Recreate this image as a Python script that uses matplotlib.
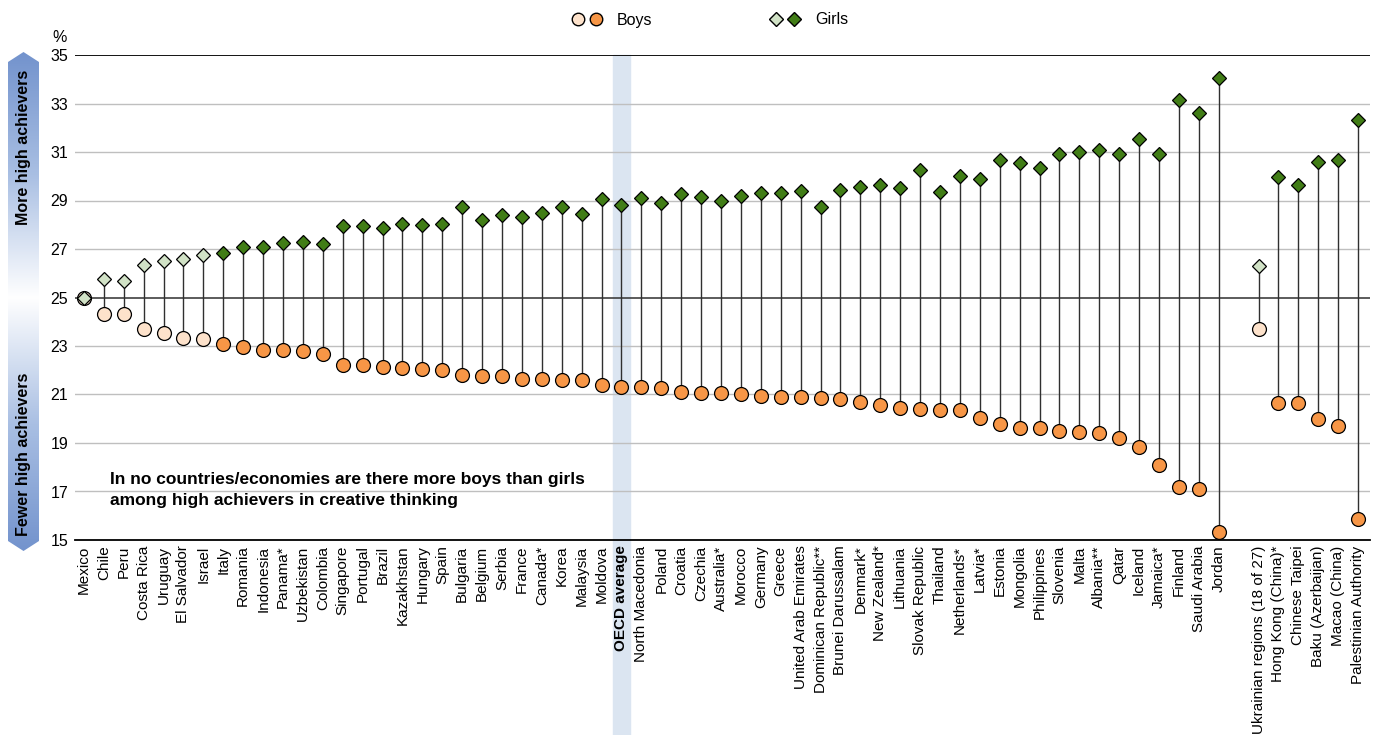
import numpy as np
import matplotlib
matplotlib.use('Agg')
import matplotlib.pyplot as plt
from matplotlib import font_manager
from matplotlib.colors import LinearSegmentedColormap
from matplotlib.patches import Polygon, Rectangle
from matplotlib.lines import Line2D
from matplotlib.legend_handler import HandlerTuple

names = {f.name for f in font_manager.fontManager.ttflist}
narrow = 'Liberation Sans Narrow' if 'Liberation Sans Narrow' in names else 'Liberation Sans'
plt.rcParams['font.family'] = ['Liberation Sans', 'DejaVu Sans']

countries = ['Mexico', 'Chile', 'Peru', 'Costa Rica', 'Uruguay', 'El Salvador', 'Israel', 'Italy',
             'Romania', 'Indonesia', 'Panama*', 'Uzbekistan', 'Colombia', 'Singapore', 'Portugal',
             'Brazil', 'Kazakhstan', 'Hungary', 'Spain', 'Bulgaria', 'Belgium', 'Serbia', 'France',
             'Canada*', 'Korea', 'Malaysia', 'Moldova', 'OECD average', 'North Macedonia', 'Poland',
             'Croatia', 'Czechia', 'Australia*', 'Morocco', 'Germany', 'Greece',
             'United Arab Emirates', 'Dominican Republic**', 'Brunei Darussalam', 'Denmark*',
             'New Zealand*', 'Lithuania', 'Slovak Republic', 'Thailand', 'Netherlands*', 'Latvia*',
             'Estonia', 'Mongolia', 'Philippines', 'Slovenia', 'Malta', 'Albania**', 'Qatar',
             'Iceland', 'Jamaica*', 'Finland', 'Saudi Arabia', 'Jordan',
             'Ukrainian regions (18 of 27)', 'Hong Kong (China)*', 'Chinese Taipei',
             'Baku (Azerbaijan)', 'Macao (China)', 'Palestinian Authority']

girls = [25.0, 25.75, 25.7, 26.35, 26.5, 26.6, 26.75, 26.85,
         27.1, 27.1, 27.25, 27.3, 27.2, 27.95, 27.95,
         27.85, 28.05, 28.0, 28.05, 28.75, 28.2, 28.4, 28.3,
         28.5, 28.75, 28.45, 29.05, 28.8, 29.1, 28.9,
         29.25, 29.15, 29.0, 29.2, 29.3, 29.3,
         29.4, 28.75, 29.45, 29.55,
         29.65, 29.5, 30.25, 29.35, 30.0, 29.9,
         30.65, 30.55, 30.35, 30.9, 31.0, 31.1, 30.9,
         31.55, 30.9, 33.15, 32.6, 34.05,
         26.3, 29.95, 29.65,
         30.6, 30.65, 32.3]

boys = [25.0, 24.3, 24.3, 23.7, 23.55, 23.35, 23.3, 23.1,
        22.95, 22.85, 22.85, 22.8, 22.65, 22.2, 22.2,
        22.15, 22.1, 22.05, 22.0, 21.8, 21.75, 21.75, 21.65,
        21.65, 21.6, 21.6, 21.4, 21.3, 21.3, 21.25,
        21.1, 21.05, 21.05, 21.0, 20.95, 20.9,
        20.9, 20.85, 20.8, 20.7,
        20.55, 20.45, 20.4, 20.35, 20.35, 20.05,
        19.8, 19.6, 19.6, 19.5, 19.45, 19.4, 19.2,
        18.85, 18.1, 17.2, 17.1, 15.35,
        23.7, 20.65, 20.65,
        20.0, 19.7, 15.85]

# False = difference not significant (lighter markers)
significant = [False] * 7 + [True] * 51 + [False] + [True] * 5

boys = np.array(boys)
girls = np.array(girls)
significant = np.array(significant)
idx = np.arange(len(countries))
pos = idx + (idx >= 58)  # gap before the partner economies

boy_light, boy_dark = '#FDE2CB', '#F79646'
girl_light, girl_dark = '#D1E2C6', '#417D16'

fig = plt.figure(figsize=(13.77, 7.35), dpi=100)
ax = fig.add_axes([75 / 1377, 1 - 540 / 735, 1295 / 1377, 485 / 735])

for y in range(17, 35, 2):
    ax.axhline(y, color='#404040' if y == 25 else '#BFBFBF', lw=1.2 if y == 25 else 1, zorder=1)
ax.axhline(35, color='black', lw=1.3, zorder=1)

oecd = countries.index('OECD average')
ax.add_patch(Rectangle((pos[oecd] - 0.45, -0.41), 0.9, 1.41, transform=ax.get_xaxis_transform(),
                       color='#DBE5F1', clip_on=False, zorder=0))

ax.vlines(pos, boys, girls, color='#303030', lw=1, zorder=2)

for mask, bc, gc in [(~significant, boy_light, girl_light), (significant, boy_dark, girl_dark)]:
    ax.plot(pos[mask], boys[mask], 'o', ms=10, mfc=bc, mec='black', mew=0.9, zorder=3)
    ax.plot(pos[mask], girls[mask], 'D', ms=7.5, mfc=gc, mec='black', mew=0.9, zorder=4)

ax.set_xlim(-0.45, pos[-1] + 0.6)
ax.set_ylim(15, 35)
ax.set_yticks(range(15, 36, 2))
ax.set_xticks(pos, countries, rotation=90, fontsize=11)
ax.get_xticklabels()[oecd].set_fontweight('bold')
ax.tick_params(axis='both', length=0)
ax.tick_params(axis='y', labelsize=11.5, pad=5)
ax.tick_params(axis='x', pad=4)
for s in ['left', 'right', 'top']:
    ax.spines[s].set_visible(False)
ax.spines['bottom'].set_linewidth(1.3)

fig.text(52 / 1377, 1 - 38 / 735, '%', fontsize=11.5, va='center')

ax.text(0.027, 0.103, 'In no countries/economies are there more boys than girls\n'
        'among high achievers in creative thinking', transform=ax.transAxes,
        fontsize=12.5, fontweight='bold', va='center', linespacing=1.45, family=narrow)

handles = [(Line2D([], [], marker='o', ls='none', ms=9, mfc=boy_light, mec='black'),
            Line2D([], [], marker='o', ls='none', ms=9, mfc=boy_dark, mec='black')),
           (Line2D([], [], marker='D', ls='none', ms=7, mfc=girl_light, mec='black'),
            Line2D([], [], marker='D', ls='none', ms=7, mfc=girl_dark, mec='black'))]
fig.legend(handles, ['Boys', 'Girls'], handler_map={tuple: HandlerTuple(ndivide=None, pad=0.1)},
           loc='center', bbox_to_anchor=(709 / 1377, 1 - 20 / 735), ncol=2, frameon=False,
           columnspacing=7.2, handlelength=2.2, handletextpad=0.8, fontsize=11.5)

# side arrows
ov = fig.add_axes([0, 0, 1, 1], zorder=-1)
ov.axis('off')
cmap = LinearSegmentedColormap.from_list('arr', ['#7393CD', '#A9BFE3', '#FFFFFF'])
grad = np.linspace(0, 1, 256).reshape(-1, 1)
top = Polygon([(8, 62), (23.5, 52), (39, 62), (39, 298), (8, 298)], closed=True,
              transform=ov.transData, fc='none', ec='none')
bot = Polygon([(8, 297), (39, 297), (39, 541), (23.5, 551), (8, 541)], closed=True,
              transform=ov.transData, fc='none', ec='none')
ov.add_patch(top)
ov.add_patch(bot)
im1 = ov.imshow(grad, cmap=cmap, extent=[8, 39, 298, 52], aspect='auto', origin='upper')
im1.set_clip_path(top)
im2 = ov.imshow(grad[::-1], cmap=cmap, extent=[8, 39, 551, 297], aspect='auto', origin='upper')
im2.set_clip_path(bot)
ov.set_xlim(0, 1377)
ov.set_ylim(735, 0)
ov.text(24, 147, 'More high achievers', rotation=90, ha='center', va='center',
        fontsize=11.5, fontweight='bold', family=narrow)
ov.text(24, 454, 'Fewer high achievers', rotation=90, ha='center', va='center',
        fontsize=11.5, fontweight='bold', family=narrow)

fig.savefig('out.png', dpi=100)
